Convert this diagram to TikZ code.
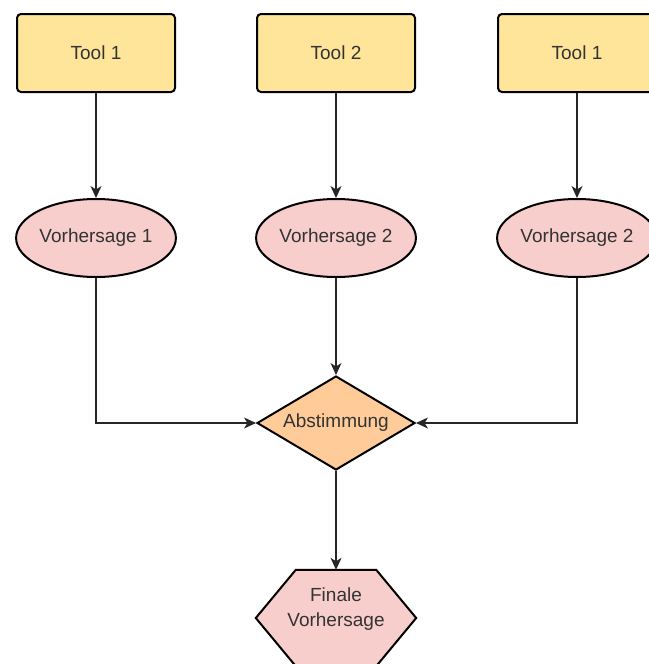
\documentclass[tikz,border=0pt]{standalone}
\usepackage{fontspec}
\setmainfont{Liberation Sans}
\usetikzlibrary{arrows.meta,shapes.geometric,calc}

\definecolor{toolyellow}{HTML}{FFE599}
\definecolor{predpink}{HTML}{F8CECC}
\definecolor{voteorange}{HTML}{FFCC99}
\definecolor{textgray}{HTML}{333333}

\tikzset{
	every node/.style={font=\fontsize{19}{23}\selectfont, text=textgray},
	toolbox/.style={draw=black, line width=2pt, rounded corners=4pt, fill=toolyellow, minimum width=158pt, minimum height=78pt},
	predball/.style={ellipse, inner sep=0pt, draw=black, line width=2pt, fill=predpink, minimum width=158pt, minimum height=78pt},
	votediamond/.style={diamond, aspect=1.667, inner sep=0pt, draw=black, line width=2pt, fill=voteorange, minimum width=158pt, minimum height=94pt},
	finalhex/.style={rectangle, inner sep=0pt, minimum width=160pt, minimum height=96pt},
	hexline/.style={draw=black, line width=2pt, fill=predpink, line join=miter},
	link/.style={draw=black!85, line width=1.2pt, -{Stealth[length=12pt,width=11pt,inset=3.5pt]}}
}

\begin{document}
\begin{tikzpicture}[x=1pt, y=-1pt]
	%%%%% START %%%%%
	\useasboundingbox (0,0) rectangle (648,664);
	
	% tools
	\node[toolbox] (tool1) at (96, 53) {Tool 1};
	\node[toolbox] (tool2) at (336, 53) {Tool 2};
	\node[toolbox] (tool3) at (577, 53) {Tool 1};
	
	% predictions
	\node[predball] (pred1) at (96, 238) {Vorhersage 1};
	\node[predball] (pred2) at (336, 238) {Vorhersage 2};
	\node[predball] (pred3) at (577, 238) {Vorhersage 2};
	
	% vote and result
	\node[votediamond] (vote) at (336, 423) {Abstimmung};
	\node[finalhex] (final) at (336, 618) {};
	\draw[hexline] (final.west) -- ($(final.north west)+(40,0)$) -- ($(final.north east)+(-40,0)$)
		-- (final.east) -- ($(final.south east)+(-40,0)$) -- ($(final.south west)+(40,0)$) -- cycle;
	\node[align=center, font=\fontsize{19}{25}\selectfont] (finaltext) at (336, 609.5) {Finale\\Vorhersage};
	
	\draw[link] (tool1) -- (pred1);
	\draw[link] (tool2) -- (pred2);
	\draw[link] (tool3) -- (pred3);
	
	\draw[link] (pred1.south) |- (vote.west);
	\draw[link] (pred2) -- (vote);
	\draw[link] (pred3.south) |- (vote.east);
	
	\draw[link] (vote) -- (final);
	%%%%% END %%%%%
\end{tikzpicture}
\end{document}
